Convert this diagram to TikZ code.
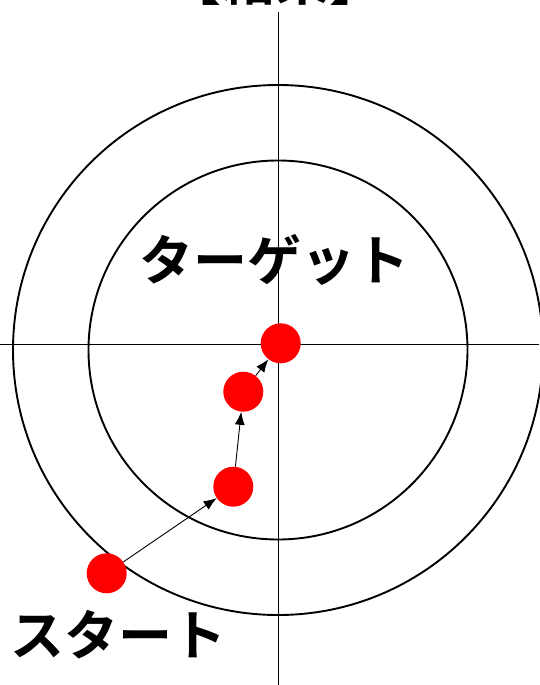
\documentclass[tikz,border=0pt]{standalone}
\usepackage{fontspec}
\newfontfamily\jpfont{Noto Sans CJK JP}[BoldFont={Noto Sans CJK JP Bold}]
\usetikzlibrary{arrows.meta}

\begin{document}
\begin{tikzpicture}[x=1pt, y=-1pt,
    axis/.style={line width=1pt},
    ring/.style={line width=1.9pt},
    dot/.style={circle, fill=red, minimum size=40pt, inner sep=0pt},
    jump/.style={-{Latex[length=13pt, width=10pt]}, line width=0.9pt},
    label/.style={font=\jpfont\bfseries\fontsize{54}{60}\selectfont, inner sep=0pt}
  ]
    \useasboundingbox (0,0) rectangle (539,685);
    % cross hair and rings
    \draw[axis] (278.7,12) -- (278.7,685);
    \draw[axis] (0,344) -- (539,344);
    \draw[ring] (278,350) circle[radius=189.5];
    \draw[ring] (278,350) circle[radius=265];
    % texts
    \node[label] (title) at (275.5,-20) {【結果】};
    \node[label] (target) at (274,260) {ターゲット};
    \node[label] (start) at (118,635) {スタート};
    % path to the centre
    \node[dot] (p1) at (106.7,573.3) {};
    \node[dot] (p2) at (233.3,486.7) {};
    \node[dot] (p3) at (243.3,391.7) {};
    \node[dot] (p4) at (280.7,343.3) {};
    \draw[jump] (p1) -- (p2);
    \draw[jump] (p2) -- (p3);
    \draw[jump] (p3) -- (p4);
\end{tikzpicture}
\end{document}
